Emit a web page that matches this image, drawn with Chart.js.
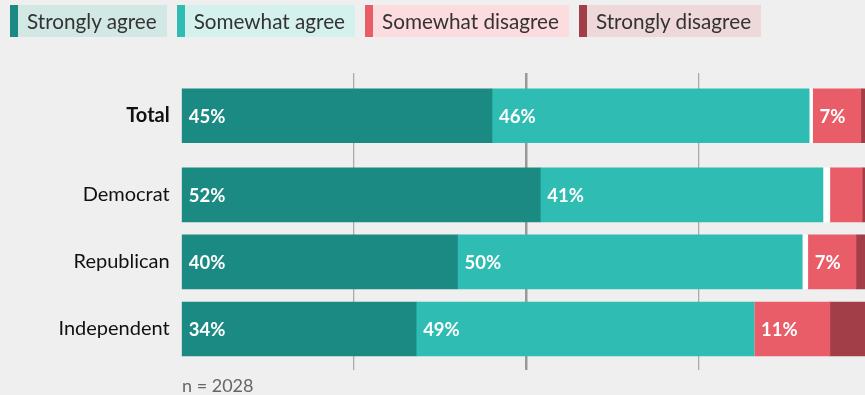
<!DOCTYPE html>
<html>
<head>
<meta charset="utf-8">
<script src="https://cdn.jsdelivr.net/npm/chart.js@4"></script>
<style>
  html, body { margin: 0; padding: 0; background: #efefef; }
  #wrap { position: relative; width: 865px; height: 395px; overflow: hidden; font-family: Lato, "Noto Sans", sans-serif; }
  #legend { position: absolute; top: 5px; left: 10px; display: flex; gap: 10px; }
  .item { box-sizing: border-box; height: 32px; line-height: 32px; border-left: 8px solid; padding: 0 10px 0 9px; font-size: 20.7px; color: #333; white-space: nowrap; }
  #note { position: absolute; left: 182px; top: 374px; font-size: 18px; color: #666; }
  canvas { position: absolute; left: 0; top: 0; }
</style>
</head>
<body>
<div id="wrap">
  <canvas id="chart" width="865" height="395"></canvas>
  <div id="legend"></div>
  <div id="note">n = 2028</div>
</div>
<script>
// Survey responses by party (percent)
const categories = ['Total', 'Democrat', 'Republican', 'Independent'];
const seriesNames = ['Strongly agree', 'Somewhat agree', 'Somewhat disagree', 'Strongly disagree'];
const stronglyAgree    = [45, 52, 40, 34];
const somewhatAgree    = [46, 41, 50, 49];
const noAnswer         = [0.5, 1, 0.8, 0];
const somewhatDisagree = [7, 4.7, 7, 11];
const stronglyDisagree = [1.5, 1.3, 2.2, 6];
const gridTicks = [25, 50, 75];

const colors = {
  sa: '#1b8a82', wa: '#2fbcb2', wd: '#e95d68', sd: '#a23e48', na: '#ffffff'
};
const tints = ['#d2e8e5', '#d5f1ee', '#fcdcdf', '#eed8da'];

// Rows are evenly spaced, with extra room after the "Total" row
const groupGap = 0.18;
const rowPos = categories.map((c, i) => i + (i > 0 ? groupGap : 0));
const rowMin = -0.637, rowMax = 3.791;

// HTML legend
const legendEl = document.getElementById('legend');
[colors.sa, colors.wa, colors.wd, colors.sd].forEach((c, i) => {
  const d = document.createElement('div');
  d.className = 'item';
  d.style.borderLeftColor = c;
  d.style.background = tints[i];
  d.textContent = seriesNames[i];
  legendEl.appendChild(d);
});

const toPoints = arr => arr.map((v, i) => ({ x: v, y: rowPos[i] }));

const datasets = [
  { label: seriesNames[0], data: toPoints(stronglyAgree), backgroundColor: colors.sa, showValue: true },
  { label: seriesNames[1], data: toPoints(somewhatAgree), backgroundColor: colors.wa, showValue: true },
  { label: 'No answer', data: toPoints(noAnswer), backgroundColor: colors.na, showValue: false },
  { label: seriesNames[2], data: toPoints(somewhatDisagree), backgroundColor: colors.wd, showValue: true },
  { label: seriesNames[3], data: toPoints(stronglyDisagree), backgroundColor: colors.sd, showValue: false }
].map(d => Object.assign(d, { barThickness: 54, borderWidth: 0 }));

// Percentage labels inside the segments
const valueLabels = {
  id: 'valueLabels',
  afterDatasetsDraw(chart) {
    const ctx = chart.ctx;
    ctx.save();
    ctx.font = 'bold 18.5px Lato, "Noto Sans", sans-serif';
    ctx.fillStyle = '#ffffff';
    ctx.textAlign = 'left';
    ctx.textBaseline = 'middle';
    chart.data.datasets.forEach((ds, di) => {
      if (!ds.showValue) return;
      const meta = chart.getDatasetMeta(di);
      meta.data.forEach((el, i) => {
        const v = ds.data[i].x;
        if (v < 6) return;
        const p = el.getProps(['x', 'y', 'base'], true);
        ctx.fillText(v + '%', Math.min(p.base, p.x) + 7, p.y + 1);
      });
    });
    ctx.restore();
  }
};

new Chart(document.getElementById('chart'), {
  type: 'bar',
  data: { datasets },
  plugins: [valueLabels],
  options: {
    responsive: false,
    animation: false,
    devicePixelRatio: 1,
    indexAxis: 'y',
    layout: { padding: { top: 73, bottom: 25, left: 0, right: 0 } },
    plugins: { legend: { display: false }, tooltip: { enabled: false } },
    scales: {
      x: {
        type: 'linear',
        stacked: true,
        min: 0,
        max: 99.1,
        afterBuildTicks: s => { s.ticks = gridTicks.map(v => ({ value: v })); },
        ticks: { display: false },
        border: { display: false },
        grid: {
          drawTicks: false,
          color: c => (c.tick && c.tick.value === 50) ? '#999999' : '#ababab',
          lineWidth: c => (c.tick && c.tick.value === 50) ? 2.5 : 1.3
        },
        afterFit: s => { s.height = 0; }
      },
      y: {
        type: 'linear',
        stacked: true,
        reverse: true,
        offset: false,
        bounds: 'data',
        min: rowMin,
        max: rowMax,
        afterBuildTicks: s => {
          s.ticks = rowPos.map(v => ({ value: v }));
          s.min = rowMin;
          s.max = rowMax;
        },
        afterFit: s => { s.width = 181.7; },
        border: { display: false },
        grid: { display: false, offset: false, drawTicks: false, tickLength: 0 },
        ticks: {
          padding: 12,
          color: '#111111',
          callback: (v) => {
            const i = rowPos.indexOf(v);
            return i >= 0 ? categories[i] : '';
          },
          font: c => ({
            family: 'Lato, "Noto Sans", sans-serif',
            size: 20,
            weight: (c.index === 0) ? 'bold' : 'normal'
          })
        }
      }
    }
  }
});
</script>
</body>
</html>
